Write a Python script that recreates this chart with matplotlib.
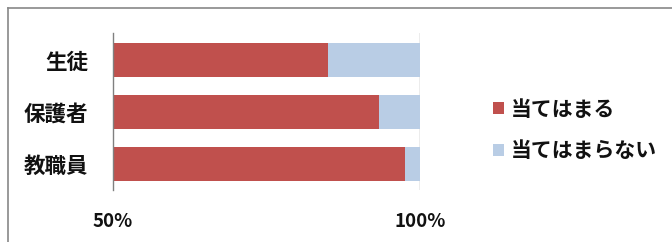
import matplotlib
matplotlib.use("Agg")
import matplotlib.pyplot as plt
from matplotlib.patches import Patch
from matplotlib.lines import Line2D

plt.rcParams['font.family'] = ['Noto Sans CJK JP', 'DejaVu Sans']

categories = ["生徒", "保護者", "教職員"]
applies = [85.0, 93.3, 97.5]          # 当てはまる (%)
not_applies = [15.0, 6.7, 2.5]        # 当てはまらない (%)
series_names = ["当てはまる", "当てはまらない"]
tick_values = [50, 100]
tick_labels = ["50%", "100%"]

red = "#C0504D"
blue = "#B9CDE5"

fig = plt.figure(figsize=(6.72, 2.42), dpi=100)
ax = fig.add_axes([113/672, 1-190/242, (420-113)/672, (190-33)/242])

ypos = list(range(len(categories)))[::-1]
ax.barh(ypos, applies, left=0, height=0.654, color=red, zorder=2)
ax.barh(ypos, not_applies, left=applies, height=0.654, color=blue, zorder=2)

ax.set_xlim(50, 100)
ax.set_ylim(-0.5, 2.52)
ax.set_yticks(ypos)
ax.set_yticklabels(categories, fontsize=15.5, fontweight='bold', color='#111111')
ax.set_xticks(tick_values)
ax.set_xticklabels(tick_labels, fontsize=13.5, fontweight='bold', color='#111111')
ax.tick_params(axis='both', length=0)
ax.tick_params(axis='y', pad=18)
ax.tick_params(axis='x', pad=16)
for s in ['top', 'right', 'bottom']:
    ax.spines[s].set_visible(False)
ax.spines['left'].set_color('#808080')
ax.spines['left'].set_linewidth(1.0)
ax.axvline(100, color='#A0A0A0', lw=1.0, zorder=1)

handles = [Patch(facecolor=red, edgecolor='none'), Patch(facecolor=blue, edgecolor='none')]
leg = fig.legend(handles, series_names, loc='center left',
                 bbox_to_anchor=(474/672, 1-130/242), frameon=False,
                 prop={'size': 15, 'weight': 'bold'}, handlelength=0.55, handleheight=0.55,
                 handletextpad=0.3, labelspacing=1.0)
for t in leg.get_texts():
    t.set_color('#111111')

# chart frame (top and left edges visible)
fig.add_artist(Line2D([8/672, 8/672], [0, 1-8/242], transform=fig.transFigure, color='#888888', lw=1.2))
fig.add_artist(Line2D([8/672, 1], [1-8/242, 1-8/242], transform=fig.transFigure, color='#888888', lw=1.2))

fig.savefig("out.png", dpi=100)
